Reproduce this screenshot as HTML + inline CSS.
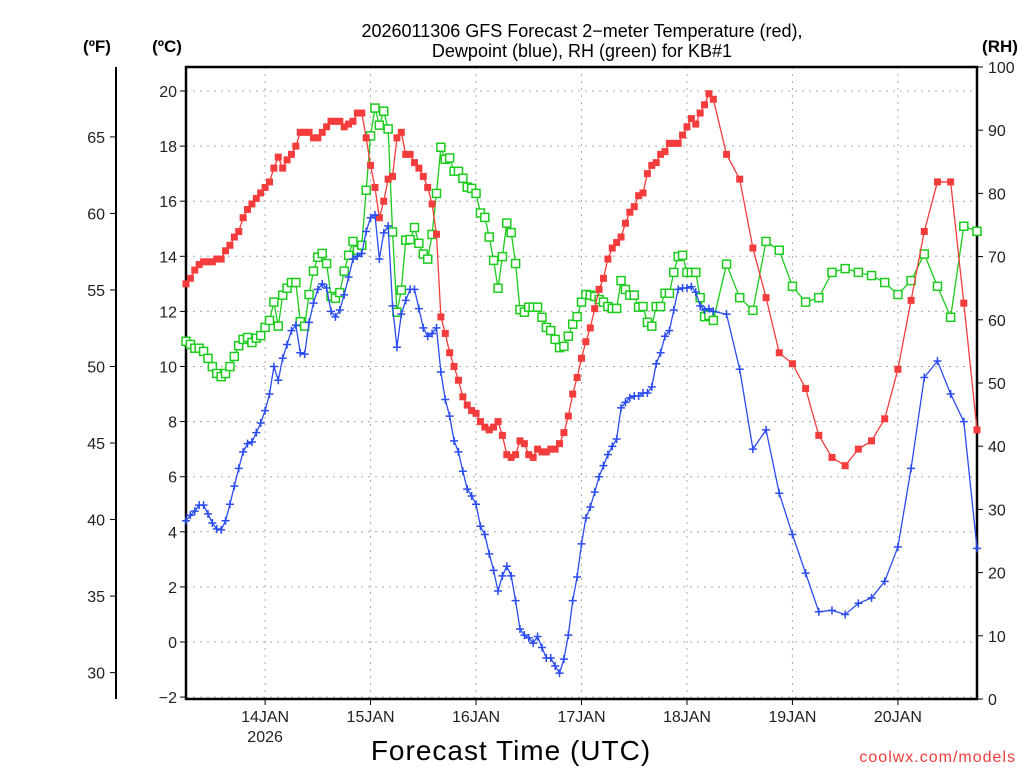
<!DOCTYPE html>
<html><head><meta charset="utf-8"><style>
html,body{margin:0;padding:0;background:#fff;width:1024px;height:768px;overflow:hidden}
svg{display:block;font-family:"Liberation Sans","DejaVu Sans",sans-serif}
</style></head><body>
<svg id="chart" width="1024" height="768" viewBox="0 0 1024 768" xmlns="http://www.w3.org/2000/svg">
<text x="582" y="37" text-anchor="middle" font-size="18" fill="#000">2026011306 GFS Forecast 2−meter Temperature (red),</text>
<text x="582" y="57" text-anchor="middle" font-size="18" fill="#000">Dewpoint (blue), RH (green) for KB#1</text>
<text x="97" y="52" text-anchor="middle" font-size="17" font-weight="bold">(ºF)</text>
<text x="167" y="52" text-anchor="middle" font-size="17" font-weight="bold">(ºC)</text>
<text x="1000" y="52" text-anchor="middle" font-size="17" font-weight="bold">(RH)</text>
<text x="511" y="760" text-anchor="middle" font-size="28" letter-spacing="1">Forecast Time (UTC)</text>
<text x="1016" y="762" text-anchor="end" font-size="16" fill="#f03c3c" letter-spacing="1">coolwx.com/models</text>
<g id="grid"></g><g id="axes"></g><g id="series"></g>
</svg>
<script>
const hoursHourly = Array.from({length:121},(_, i)=>i);
const hours3 = [123,126,129,132,135,138,141,144,147,150,153,156,159,162,165,168,171,174,177,180];
const tempC = [13.0,13.2,13.5,13.7,13.8,13.8,13.8,13.9,13.9,14.2,14.4,14.7,14.9,15.4,15.7,15.9,16.1,16.3,16.5,16.7,17.2,17.6,17.2,17.5,17.7,18.0,18.5,18.5,18.5,18.3,18.3,18.5,18.7,18.9,18.9,18.9,18.7,18.8,18.9,19.2,19.2,18.3,17.3,16.5,15.4,16.0,16.8,16.9,18.3,18.5,17.7,17.7,17.4,17.2,16.9,16.5,15.9,14.8,11.8,11.2,10.5,10.0,9.5,8.9,8.6,8.4,8.3,8.0,7.8,7.7,7.8,8.0,7.5,6.8,6.7,6.8,7.3,7.2,6.8,6.7,7.0,6.9,6.9,7.0,7.0,7.2,7.6,8.2,9.0,9.6,10.3,10.9,11.4,12.1,12.8,13.2,13.9,14.3,14.5,14.7,15.2,15.6,15.8,16.2,16.3,17.0,17.3,17.4,17.7,17.8,18.1,18.1,18.1,18.4,18.7,19.0,18.8,19.2,19.5,19.9,19.7,
17.7,16.8,14.3,12.5,10.5,10.1,9.2,7.5,6.7,6.4,7.0,7.3,8.1,9.9,12.4,14.9,16.7,16.7,12.3,7.7];
const dewC = [4.4,4.6,4.75,4.97,4.97,4.65,4.32,4.1,4.07,4.4,5.0,5.66,6.3,6.9,7.2,7.26,7.6,7.95,8.4,9.0,10.0,9.5,10.3,10.8,11.3,11.5,10.5,10.45,11.6,12.3,12.8,13.0,12.85,12.0,11.8,12.05,12.6,13.25,13.9,14.0,14.1,14.9,15.4,15.5,13.9,14.85,15.1,12.2,10.7,11.9,12.4,12.8,12.8,12.1,11.4,11.1,11.2,11.4,9.8,8.8,8.2,7.3,6.9,6.2,5.55,5.3,5.0,4.2,3.9,3.2,2.6,1.85,2.4,2.75,2.4,1.5,0.47,0.25,0.15,-0.04,0.2,-0.2,-0.58,-0.58,-0.87,-1.13,-0.62,0.25,1.5,2.36,3.56,4.5,4.9,5.44,6.0,6.4,6.8,7.1,7.37,8.5,8.7,8.86,8.93,8.93,9.04,9.04,9.26,10.1,10.5,11.1,11.3,12.05,12.8,12.85,12.85,12.9,12.7,12.2,12.05,12.1,12.0,
11.9,9.9,7.0,7.7,5.4,3.9,2.5,1.1,1.15,1.0,1.4,1.6,2.2,3.45,6.3,9.6,10.2,9.0,8.0,3.4];
const rhPct = [56.6,56.1,55.5,55.5,55.0,53.9,52.6,51.5,51.0,51.5,52.6,54.2,55.9,56.9,57.2,56.4,57.1,57.5,58.8,59.9,62.8,59.0,63.9,65.0,65.9,65.9,59.7,59.0,64.0,67.7,69.9,70.5,68.9,63.7,63.4,64.3,67.7,70.2,72.4,71.0,71.8,80.5,89.1,93.5,90.8,93.0,90.2,73.9,61.2,64.7,72.6,72.7,74.6,72.1,70.4,69.6,73.5,80.0,87.3,85.4,85.6,83.5,83.5,82.4,81.0,80.8,80.0,76.9,76.2,73.1,69.4,65.0,70.0,75.3,73.8,68.9,61.6,61.2,62.0,62.0,62.0,60.4,58.8,58.3,56.9,55.6,55.8,57.4,59.3,60.5,62.8,64.0,63.9,63.7,63.2,62.8,62.1,61.8,61.8,66.2,64.8,63.9,63.9,62.0,62.1,59.6,59.0,62.1,62.1,64.2,64.2,67.5,70.0,70.2,67.5,67.5,67.5,63.5,60.5,60.7,59.9,
68.8,63.5,61.5,72.4,71.0,65.3,62.8,63.5,67.5,68.1,67.5,67.0,65.9,64.0,66.2,70.4,65.3,60.4,74.8,74.0];
const cTicks = [-2,0,2,4,6,8,10,12,14,16,18,20];
const fTicks = [30,35,40,45,50,55,60,65];
const rhTicks = [0,10,20,30,40,50,60,70,80,90,100];
const dayLabels = ['14JAN','15JAN','16JAN','17JAN','18JAN','19JAN','20JAN'];
const dayHours = [18,42,66,90,114,138,162];

const NS='http://www.w3.org/2000/svg';
const L=186,R=977,T=67,B=699,H0=0,H1=180;
const xS=h=>L+(h-H0)/(H1-H0)*(R-L);
const yC=c=>642-c*27.55;
const yF=f=>yC((f-32)/1.8);
const yRH=r=>B-r*(B-T)/100;
function el(tag,attrs,parent,text){const e=document.createElementNS(NS,tag);for(const k in attrs)e.setAttribute(k,attrs[k]);if(text!==undefined)e.textContent=text;parent.appendChild(e);return e;}
const grid=document.getElementById('grid'),axes=document.getElementById('axes'),ser=document.getElementById('series');
const allHours=hoursHourly.concat(hours3);

cTicks.forEach(c=>{
  const g=el('line',{x1:L,x2:R,y1:yC(c),y2:yC(c),stroke:'#aaa','stroke-width':1,'stroke-dasharray':'2,5'},grid);
  
  
  const t=el('line',{x1:L-6,x2:L,y1:yC(c),y2:yC(c),stroke:'#000','stroke-width':1},axes);
  
  
  const lb=el('text',{x:L-9,y:yC(c)+6,'text-anchor':'end','font-size':16,fill:'#222'},axes,(c<0?'−'+(-c):c));
  
  
});
dayHours.forEach((h,i)=>{
  const g=el('line',{x1:xS(h),x2:xS(h),y1:T,y2:B,stroke:'#aaa','stroke-width':1,'stroke-dasharray':'2,5'},grid);
  
  
  const t=el('line',{x1:xS(h),x2:xS(h),y1:B,y2:B+6,stroke:'#000','stroke-width':1},axes);
  
  
  const lb=el('text',{x:xS(h),y:B+23,'text-anchor':'middle','font-size':16,fill:'#222'},axes,dayLabels[i]);
  
  
});
const yr=el('text',{x:xS(dayHours[0]),y:B+43,'text-anchor':'middle','font-size':16,fill:'#222'},axes,'2026');


fTicks.forEach(f=>{
  const t=el('line',{x1:110,x2:116,y1:yF(f),y2:yF(f),stroke:'#000','stroke-width':1},axes);
  
  
  const lb=el('text',{x:105,y:yF(f)+6,'text-anchor':'end','font-size':16,fill:'#222'},axes,f);
  
  
});
rhTicks.forEach(r=>{
  const t=el('line',{x1:R,x2:R+6,y1:yRH(r),y2:yRH(r),stroke:'#000','stroke-width':1},axes);
  
  
  const lb=el('text',{x:R+11,y:yRH(r)+6,'text-anchor':'start','font-size':16,fill:'#222'},axes,r);
  
  
});
const fr=el('path',{d:`M${L},${B}V${T}H${R}V${B}Z`,fill:'none',stroke:'#000','stroke-width':2.5},axes);


const fa=el('line',{x1:116,x2:116,y1:T,y2:B,stroke:'#000','stroke-width':2},axes);



function series(vals,yf,color,kind,name){
  const g=el('g',{},ser);
  
  
  const pts=vals.map((v,i)=>[xS(allHours[i]),yf(v)]);
  const ln=el('polyline',{points:pts.map(p=>p.join(',')).join(' '),fill:'none',stroke:color,'stroke-width':1.3},g);
  
  
  pts.forEach((p,i)=>{
    let m;
    if(kind==='fill') m=el('rect',{x:p[0]-3.5,y:p[1]-3.5,width:7,height:7,fill:color},g);
    else if(kind==='open') m=el('rect',{x:p[0]-4,y:p[1]-4,width:8,height:8,fill:'#fff',stroke:color,'stroke-width':1.5},g);
    else m=el('path',{d:`M${p[0]-4},${p[1]}h8M${p[0]},${p[1]-4}v8`,stroke:color,'stroke-width':1.5},g);
    
    
  });
}
series(rhPct,yRH,'#1ccc1c','open','rh');
series(tempC,yC,'#f53c3c','fill','temperature');
series(dewC,yC,'#2a4cf0','plus','dewpoint');
</script>
</body></html>
